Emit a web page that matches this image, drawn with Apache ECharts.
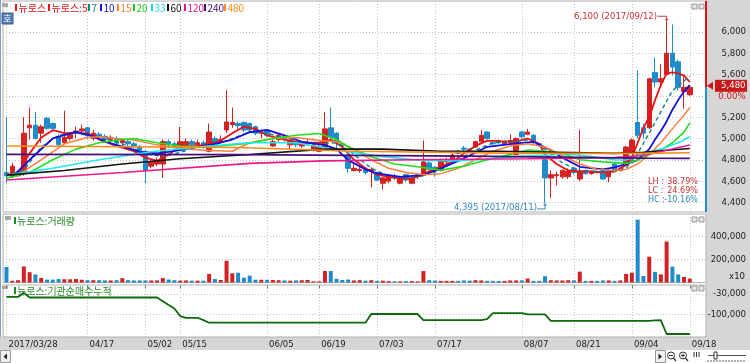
<!DOCTYPE html>
<html><head><meta charset="utf-8">
<script src="https://cdn.jsdelivr.net/npm/echarts@6/dist/echarts.min.js"></script>
<style>html,body{margin:0;padding:0;background:#fff;}#c{width:750px;height:363px;}</style>
</head><body><div id="c"></div>
<script>
const dates = [
'2017/03/28','2017/03/29','2017/03/30','2017/03/31',
'2017/04/03','2017/04/04','2017/04/05','2017/04/06','2017/04/07',
'2017/04/10','2017/04/11','2017/04/12','2017/04/13','2017/04/14',
'2017/04/17','2017/04/18','2017/04/19','2017/04/20','2017/04/21',
'2017/04/24','2017/04/25','2017/04/26','2017/04/27','2017/04/28',
'2017/05/02','2017/05/04','2017/05/08','2017/05/10','2017/05/11','2017/05/12',
'2017/05/15','2017/05/16','2017/05/17','2017/05/18','2017/05/19',
'2017/05/22','2017/05/23','2017/05/24','2017/05/25','2017/05/26',
'2017/05/29','2017/05/30','2017/05/31','2017/06/01','2017/06/02',
'2017/06/05','2017/06/07','2017/06/08','2017/06/09',
'2017/06/12','2017/06/13','2017/06/14','2017/06/15','2017/06/16',
'2017/06/19','2017/06/20','2017/06/21','2017/06/22','2017/06/23',
'2017/06/26','2017/06/27','2017/06/28','2017/06/29','2017/06/30',
'2017/07/03','2017/07/04','2017/07/05','2017/07/06','2017/07/07',
'2017/07/10','2017/07/11','2017/07/12','2017/07/13','2017/07/14',
'2017/07/17','2017/07/18','2017/07/19','2017/07/20','2017/07/21',
'2017/07/24','2017/07/25','2017/07/26','2017/07/27','2017/07/28',
'2017/07/31','2017/08/01','2017/08/02','2017/08/03','2017/08/04',
'2017/08/07','2017/08/08','2017/08/09','2017/08/10','2017/08/11',
'2017/08/14','2017/08/16','2017/08/17','2017/08/18',
'2017/08/21','2017/08/22','2017/08/23','2017/08/24','2017/08/25',
'2017/08/28','2017/08/29','2017/08/30','2017/08/31','2017/09/01',
'2017/09/04','2017/09/05','2017/09/06','2017/09/07','2017/09/08',
'2017/09/11','2017/09/12','2017/09/13','2017/09/14','2017/09/15',
'2017/09/18'];
const tickIdx = [0,14,24,30,45,54,64,74,89,98,108,118];
const priceTicks = [4400,4600,4800,5000,5200,5400,5600,5800,6000];
const priceLabels = [4400,4600,4800,5000,5200,5600,5800,6000];
const volTicks = [200000,400000];
const instTicks = [-30000,-100000];

// [open, close, low, high]
const ohlc = [
[4680,4650,4580,5200],[4645,4740,4630,4770],[4650,4680,4640,4700],[4670,5050,4650,5200],
[5100,5125,4990,5290],[5125,5000,4990,5250],[5050,5110,4960,5130],[5190,5095,5080,5200],
[5140,5095,5060,5150],[5015,4940,4930,5040],[4960,5010,4950,5260],[5000,5040,4980,5060],
[5050,5070,5000,5110],[5070,5090,5040,5130],[5100,5030,5010,5110],[5000,5050,4980,5080],
[5040,5020,4990,5060],[5020,4990,4960,5040],[4990,5010,4950,5030],[5000,4960,4940,5020],
[4960,4980,4920,5000],[4970,4950,4910,4990],[4950,4930,4900,4970],[4920,4880,4850,4940],
[4880,4700,4580,4890],[4740,4780,4720,4800],[4760,4790,4740,4820],[4760,4970,4630,4990],
[4970,4940,4920,4990],[4950,4920,4900,4970],[4930,4970,4910,5110],[4930,4970,4900,5000],
[4970,4940,4920,4990],[4940,4960,4910,4990],[4960,4930,4900,4980],[4880,5060,4870,5140],
[5000,4960,4940,5020],[4970,4990,4950,5030],[5080,5155,5050,5450],[5130,5150,5100,5290],
[5140,5120,5080,5160],[5150,5080,5060,5160],[5140,5080,5060,5150],[5110,5050,5030,5120],
[5050,5060,5000,5080],[5070,5030,5010,5080],[4930,4970,4920,4990],[4990,5030,4970,5040],
[5020,4990,4970,5030],[4940,4980,4900,5010],[4960,4940,4920,4980],[4930,4950,4910,4970],
[4950,4960,4930,4990],[4900,4940,4880,4960],[4880,4920,4870,4940],[4920,5090,4900,5250],
[5100,5010,4990,5290],[5050,4960,4900,5060],[4950,4930,4900,4960],[4840,4720,4680,4850],
[4700,4720,4690,4760],[4700,4710,4680,4740],[4710,4680,4660,4720],[4690,4710,4540,4730],
[4680,4610,4600,4690],[4580,4630,4520,4640],[4600,4640,4580,4660],[4650,4630,4610,4670],
[4580,4630,4570,4650],[4660,4610,4590,4670],[4580,4630,4570,4640],[4640,4660,4620,4670],
[4660,4780,4650,4980],[4770,4710,4700,4790],[4730,4700,4640,4740],[4700,4800,4690,4810],
[4780,4800,4760,4820],[4800,4845,4790,4860],[4880,4860,4850,4890],[4910,4900,4880,4930],
[4900,4890,4870,4910],[4920,4970,4910,4980],[4970,5030,4960,5080],[5060,5000,4990,5070],
[4960,4950,4940,4970],[4980,4960,4950,4990],[4950,4970,4940,4980],[4960,4980,4950,5040],
[4850,5000,4840,5010],[5060,5015,5000,5070],[5040,5060,5030,5090],[5030,4970,4960,5040],
[4950,4940,4920,4960],[4800,4630,4395,4810],[4630,4660,4440,4700],[4650,4660,4560,4690],
[4640,4700,4620,4710],[4640,4690,4620,4720],[4720,4680,4660,4730],[4620,4690,4600,5080],
[4700,4670,4660,4710],[4670,4690,4660,4700],[4690,4680,4670,4700],[4700,4620,4610,4710],
[4640,4700,4590,4710],[4760,4700,4690,4770],[4700,4720,4690,4730],[4750,4920,4740,4930],
[4870,4985,4860,5000],[5150,5030,5000,5640],[5100,5050,5000,5140],[5100,5560,5090,5570],
[5620,5530,5480,5760],[5530,5560,5480,5700],[5600,5800,5590,6100],[5800,5670,5590,6070],
[5720,5480,5450,5740],[5440,5480,5280,5580],[5410,5480,5400,5500]];

const volume = [
135000,15000,20000,140000,90000,70000,40000,25000,25000,30000,
28000,28000,30000,24000,20000,20000,20000,18000,18000,20000,
38000,20000,18000,18000,18000,18000,18000,38000,26000,20000,
16000,18000,16000,16000,16000,75000,30000,22000,190000,80000,
85000,42000,60000,24000,24000,24000,22000,20000,18000,16000,
18000,20000,22000,10000,10000,100000,100000,32000,22000,26000,
18000,20000,16000,20000,14000,16000,12000,10000,10000,12000,
12000,10000,100000,20000,16000,14000,14000,14000,14000,18000,
16000,20000,18000,14000,14000,14000,14000,18000,18000,18000,
35000,14000,14000,55000,20000,18000,18000,20000,18000,95000,
14000,14000,14000,18000,18000,14000,18000,75000,86000,549000,
56000,225000,93000,71000,358000,139000,71000,49000,34000];

const inst = [
-40000,-40000,-40000,-26000,-42000,-42000,-42000,-42000,-42000,-42000,
-42000,-42000,-42000,-42000,-42000,-42000,-42000,-42000,-42000,-42000,
-42000,-42000,-42000,-42000,-42000,-42000,-42000,-55000,-68000,-80000,
-106000,-112000,-112000,-112000,-120000,-129000,-129000,-129000,-129000,-129000,
-129000,-129000,-129000,-129000,-129000,-129000,-129000,-129000,-129000,-129000,
-129000,-129000,-129000,-129000,-129000,-129000,-129000,-129000,-129000,-129000,
-129000,-129000,-129000,-99000,-99000,-99000,-99000,-99000,-99000,-99000,
-99000,-99000,-120000,-120000,-120000,-120000,-120000,-120000,-120000,-120000,
-120000,-120000,-120000,-117000,-96000,-96000,-96000,-96000,-96000,-96000,
-100000,-100000,-100000,-100000,-123000,-123000,-123000,-123000,-123000,-123000,
-123000,-123000,-123000,-123000,-123000,-123000,-123000,-123000,-123000,-123000,
-123000,-123000,-121000,-120000,-168000,-168000,-168000,-168000,-168000];

// moving average lines: [day index, value]
const ma5 = [[0,4660],[2,4672],[4,4860],[6,5010],[8,5078],[10,5050],[12,5050],[14,5047],[16,4990],[19,4930],[22,4880],[24,4820],[26,4790],[28,4850],[30,4920],[33,4930],[35,4950],[37,4980],[39,5050],[41,5110],[43,5090],[45,5030],[48,4990],[51,4960],[54,4960],[56,4990],[58,4920],[60,4800],[62,4720],[64,4660],[67,4630],[70,4620],[72,4670],[74,4710],[77,4780],[79,4860],[81,4930],[83,4980],[85,4975],[88,4970],[90,5000],[92,4950],[93,4850],[95,4760],[97,4700],[99,4690],[101,4690],[103,4680],[105,4690],[107,4750],[108,4820],[109,4960],[110,5100],[111,5200],[112,5360],[113,5500],[114,5610],[115,5620],[116,5610],[117,5590],[118,5530]];
const ma7 = [[0,4650],[3,4700],[6,4920],[9,5030],[12,5050],[15,5020],[18,4980],[21,4930],[24,4860],[27,4830],[30,4870],[33,4920],[36,4940],[39,5000],[42,5060],[45,5050],[48,5000],[51,4970],[54,4950],[57,4960],[60,4850],[63,4720],[66,4650],[69,4630],[72,4650],[75,4710],[78,4800],[81,4890],[84,4960],[87,4970],[90,4985],[93,4900],[96,4770],[99,4700],[102,4690],[105,4690],[107,4720],[109,4860],[111,5050],[113,5250],[115,5450],[117,5540],[118,5584]];
const ma10 = [[1,4640],[4,4800],[8,5000],[12,5062],[15,5020],[18,4953],[21,4910],[23,4875],[26,4860],[28,4875],[31,4900],[33,4922],[36,4950],[39,4990],[42,5060],[45,5080],[48,5030],[51,4969],[55,4938],[57,4900],[59,4797],[62,4710],[64,4672],[68,4640],[72,4656],[75,4719],[78,4790],[80,4840],[83,4922],[88,4953],[91,4969],[94,4891],[96,4820],[99,4734],[103,4709],[105,4728],[107,4760],[109,4797],[110,4850],[111,4900],[112,4990],[113,5070],[114,5160],[115,5270],[116,5360],[117,5440],[118,5500]];
const ma15 = [[2,4656],[6,4800],[10,4950],[14,5010],[16,5016],[19,5000],[22,4985],[26,4940],[30,4906],[34,4890],[39,4880],[42,4960],[46,5000],[50,5010],[54,4980],[57,4970],[60,4900],[63,4800],[66,4720],[69,4680],[72,4660],[75,4670],[78,4720],[81,4800],[84,4880],[87,4930],[90,4950],[93,4920],[96,4840],[99,4760],[102,4710],[105,4700],[107,4710],[109,4760],[111,4850],[113,4960],[115,5090],[117,5220],[118,5290]];
const ma20 = [[0,4628],[4,4680],[8,4800],[12,4900],[16,4960],[20,4990],[22,5000],[26,4960],[30,4930],[33,4922],[37,4930],[42,4956],[46,5000],[50,5030],[54,5047],[57,4990],[59,4922],[63,4828],[67,4760],[71,4734],[75,4703],[79,4740],[83,4800],[87,4850],[90,4891],[93,4880],[96,4860],[99,4800],[103,4780],[107,4766],[109,4797],[111,4850],[113,4891],[115,4960],[117,5060],[118,5147]];
const ma33 = [[0,4656],[8,4720],[16,4800],[25,4875],[33,4920],[42,4960],[50,4960],[59,4875],[65,4830],[71,4797],[77,4790],[82,4803],[88,4830],[94,4844],[96,4859],[101,4830],[105,4800],[107,4797],[110,4859],[113,4900],[116,4960],[118,5016]];
const ma60 = [[0,4656],[10,4700],[20,4760],[30,4810],[42,4850],[55,4900],[65,4900],[75,4880],[85,4880],[95,4870],[105,4860],[110,4870],[114,4890],[118,4906]];
const ma120 = [[0,4610],[20,4680],[42,4766],[55,4790],[70,4800],[90,4810],[105,4820],[110,4840],[114,4890],[118,4938]];
const ma240 = [[0,4850],[40,4848],[80,4835],[110,4815],[118,4813]];
const ma480 = [[0,4930],[40,4915],[60,4880],[90,4860],[110,4860],[118,4866]];

const lastPrice = 5480, lastChange = '0.00%';
const hiNote = {i:114, v:6100, text:'6,100 (2017/09/12)'};
const loNote = {i:93, v:4395, text:'4,395 (2017/08/11)'};
const stats = [['LH :','38.79%'],['LC :','24.69%'],['HC :','-10.16%']];

const RED='#d22222', BLUE='#1f8bcb';
function hasFont(f){const c=document.createElement('canvas').getContext('2d');const s='-100,000 0123456789';
  c.font='20px monospace';const a=c.measureText(s).width;c.font='20px "'+f+'",monospace';return c.measureText(s).width!==a;}
let NARROW='"Liberation Sans",sans-serif', NSIZE=10;
if(hasFont('Liberation Sans Narrow')){NARROW='"Liberation Sans Narrow",sans-serif';NSIZE=10.5;}
else if(hasFont('DejaVu Sans Condensed')){NARROW='"DejaVu Sans Condensed",sans-serif';NSIZE=9.5;}
const KR='"Noto Sans CJK KR","Noto Sans",sans-serif';
const maDefs = [
 {name:'5', data:ma5, color:'#ee1111', w:1.8},
 {name:'7', data:ma7, color:'#108080', w:1.4, dash:[4,3]},
 {name:'10', data:ma10, color:'#1010e0', w:1.8},
 {name:'15', data:ma15, color:'#ff7f3a', w:1.5},
 {name:'20', data:ma20, color:'#1ee01e', w:1.6},
 {name:'33', data:ma33, color:'#1ee8f0', w:1.6},
 {name:'60', data:ma60, color:'#111111', w:1.6},
 {name:'120', data:ma120, color:'#ea1a8a', w:1.6},
 {name:'240', data:ma240, color:'#44107a', w:1.8},
 {name:'480', data:ma480, color:'#ff8a1a', w:1.6}];

const XMIN=-0.6, XMAX=120.8;
const grids=[{left:3,right:44,top:1,height:211},{left:3,right:44,top:214,height:68.5},{left:3,right:44,top:285,height:52}];
function xAx(g, last){
  return {type:'value', gridIndex:g, min:XMIN, max:XMAX,
    axisLine:{show:false},
    axisTick:{show:last, customValues:tickIdx, length:3, lineStyle:{color:'#777'}},
    splitLine:{show:true, lineStyle:{color:'#c4c4c4', type:[1,2], width:1}},
    axisLabel:{show:last, customValues:tickIdx, align:'left', margin:3, padding:[0,0,0,2],
      fontFamily:NARROW, fontSize:NSIZE, color:'#222',
      formatter:v=> v===0 ? dates[0] : dates[v].slice(5)}};
}
function yAx(g,min,max,ticks,labels){
  return {type:'value', gridIndex:g, position:'right', min, max,
    axisLine:{show:false},
    axisTick:{show:false, customValues:ticks},
    splitLine:{show:true, lineStyle:{color:'#c4c4c4', type:[1,2], width:1}},
    axisLabel:{customValues:labels, align:'right', margin:40, fontFamily:NARROW, fontSize:NSIZE, color:'#222',
      formatter:v=>v.toLocaleString('en-US')}};
}
const series=[];
series.push({type:'candlestick', xAxisIndex:0, yAxisIndex:0, barWidth:5, z:2,
  data: ohlc.map((d,i)=>[i,d[0],d[1],d[2],d[3]]), encode:{x:0,y:[1,2,3,4]},
  itemStyle:{color:RED,color0:BLUE,borderColor:RED,borderColor0:BLUE,borderWidth:1},
  markLine:{silent:true, symbol:'none', label:{show:false}, animation:false,
    data:[[{coord:[120.7,6290],lineStyle:{color:'#e01010',width:2,type:'solid'}},{coord:[120.7,lastPrice]}],
          [{coord:[120.7,lastPrice],lineStyle:{color:'#2090d0',width:2,type:'solid'}},{coord:[120.7,4310]}]]}});
maDefs.forEach((m,k)=>series.push({type:'line', xAxisIndex:0, yAxisIndex:0, data:m.data, symbol:'none', z:3+k*0.01,
  lineStyle:{color:m.color,width:m.w,type:m.dash||'solid'}, animation:false}));
series.push({type:'bar', xAxisIndex:1, yAxisIndex:1, barWidth:4,
  data: volume.map((v,i)=>({value:[i,v], itemStyle:{color: ohlc[i][1]>=ohlc[i][0]?RED:BLUE}}))});
series.push({type:'line', xAxisIndex:2, yAxisIndex:2, data: inst.map((v,i)=>[i,v]), symbol:'none',
  lineStyle:{color:'#0c6a0c', width:1.8}});

const chart = echarts.init(document.getElementById('c'));
chart.setOption({animation:false, backgroundColor:'#fff',
  grid: grids.map(g=>Object.assign({show:true, borderColor:'#b0b0b0', borderWidth:1, backgroundColor:'#fff'},g)),
  xAxis:[xAx(0,false),xAx(1,false),xAx(2,true)],
  yAxis:[yAx(0,4310,6290,priceTicks,priceLabels), yAx(1,0,598000,volTicks,volTicks), yAx(2,-178300,1030,instTicks,instTicks)],
  series});

const P=(i,v)=>chart.convertToPixel({xAxisIndex:0,yAxisIndex:0},[i,v]);
const g=[];
g.push({type:'rect', z:-10, shape:{x:706,y:0,width:44,height:350}, style:{fill:'#d6d6d6'}});
g.push({type:'rect', z:-10, shape:{x:0,y:337,width:750,height:13}, style:{fill:'#d6d6d6'}});
g.push({type:'line', z:-9, shape:{x1:0.5,y1:0,x2:0.5,y2:337}, style:{stroke:'#7f9fc8',lineWidth:1}});
const leg=[['뉴로스','#e01818',15],['뉴로스:5','#e01818',48],['7','#108080',88],['10','#1010e0',100],['15','#ff7f3a',117],['20','#1ec81e',133],['33','#1ed8f0',151],['60','#111',167],['120','#e8158a',184],['240','#44107a',204],['480','#ff8a1a',224]];
g.push({type:'rect', shape:{x:2,y:3,width:6,height:4}, style:{fill:'#a8a8a8'}});
leg.forEach(l=>{
  g.push({type:'rect', shape:{x:l[2],y:4,width:2,height:7}, style:{fill:l[1]}});
  g.push({type:'text', x:l[2]+3.5, y:8, style:{text:l[0], fill:l[1], font:'10px '+KR, verticalAlign:'middle'}});
});
g.push({type:'rect', shape:{x:2,y:13,width:11,height:11}, style:{fill:'#557eb0',stroke:'#3a5f90'}});
g.push({type:'text', x:7.5, y:18.5, style:{text:'호', fill:'#fff', font:'9px '+KR, align:'center', verticalAlign:'middle'}});
g.push({type:'rect', shape:{x:5,y:216,width:6,height:4}, style:{fill:'#a8a8a8'}});
g.push({type:'rect', shape:{x:14,y:217,width:2,height:7}, style:{fill:'#1c8a1c'}});
g.push({type:'text', x:17, y:221, style:{text:'뉴로스:거래량', fill:'#2a8a2a', font:'10px '+KR, verticalAlign:'middle'}});
g.push({type:'rect', shape:{x:2,y:286,width:6,height:3}, style:{fill:'#a8a8a8'}});
g.push({type:'rect', shape:{x:14,y:287,width:2,height:7}, style:{fill:'#1c8a1c'}});
g.push({type:'text', x:17, y:291, style:{text:'뉴로스:기관순매수누적', fill:'#2a8a2a', font:'10px '+KR, verticalAlign:'middle'}});
[4,217,286].forEach(y=>{[692,699].forEach(x=>g.push({type:'rect', shape:{x:x,y:y,width:5,height:5}, style:{fill:'#e4e4e4',stroke:'#999',lineWidth:1}}));});
g.push({type:'text', x:745, y:277, style:{text:'x10', fill:'#222', font:NSIZE+'px '+NARROW, align:'right', verticalAlign:'middle'}});
const ph=P(hiNote.i,hiNote.v);
g.push({type:'text', x:ph[0]-9.5, y:ph[1]-5, style:{text:hiNote.text, fill:'#cc3333', font:NSIZE+'px '+NARROW, align:'right', verticalAlign:'middle'}});
g.push({type:'polyline', shape:{points:[[ph[0]-9,ph[1]-5],[ph[0],ph[1]-5],[ph[0],ph[1]-1]]}, style:{stroke:'#cc3333',fill:null,lineWidth:1}});
g.push({type:'polygon', shape:{points:[[ph[0]-2,ph[1]-2],[ph[0]+2,ph[1]-2],[ph[0],ph[1]]]}, style:{fill:'#cc3333'}});
const pl=P(loNote.i,loNote.v);
g.push({type:'text', x:pl[0]-8, y:pl[1]+5, style:{text:loNote.text, fill:'#2e8bc0', font:NSIZE+'px '+NARROW, align:'right', verticalAlign:'middle'}});
g.push({type:'polyline', shape:{points:[[pl[0]-8,pl[1]+6],[pl[0],pl[1]+6],[pl[0],pl[1]+1]]}, style:{stroke:'#2e8bc0',fill:null,lineWidth:1}});
g.push({type:'polygon', shape:{points:[[pl[0]-2,pl[1]+2.5],[pl[0]+2,pl[1]+2.5],[pl[0],pl[1]]]}, style:{fill:'#2e8bc0'}});
stats.forEach((s,k)=>{
  const col = k<2 ? '#c83232' : '#2e8bc0';
  g.push({type:'text', x:648, y:182+k*9, style:{text:s[0], fill:col, font:'9px '+NARROW, verticalAlign:'middle'}});
  g.push({type:'text', x:698, y:182+k*9, style:{text:s[1], fill:col, font:'9px '+NARROW, align:'right', verticalAlign:'middle'}});
});
const pp=P(120.7,lastPrice);
g.push({type:'polygon', shape:{points:[[707,pp[1]-1.5],[713,pp[1]-5.5],[713,pp[1]+2.5]]}, style:{fill:'#d01818'}});
g.push({type:'rect', shape:{x:715,y:pp[1]-7.5,width:32,height:12}, style:{fill:'#c81818'}});
g.push({type:'text', x:745.5, y:pp[1]-1.5, style:{text:lastPrice.toLocaleString('en-US'), fill:'#fff', font:NSIZE+'px '+NARROW, align:'right', verticalAlign:'middle'}});
g.push({type:'text', x:745.5, y:pp[1]+9.5, style:{text:lastChange, fill:'#d01818', font:NSIZE+'px '+NARROW, align:'right', verticalAlign:'middle'}});
g.push({type:'rect', shape:{x:0.5,y:350.5,width:10,height:12}, style:{fill:'#f0f0f0',stroke:'#999'}});
g.push({type:'polygon', shape:{points:[[3.5,356.5],[7,353.5],[7,359.5]]}, style:{fill:'#222'}});
g.push({type:'rect', shape:{x:655.5,y:350.5,width:10,height:12}, style:{fill:'#f0f0f0',stroke:'#999'}});
g.push({type:'polygon', shape:{points:[[662,356.5],[658.5,353.5],[658.5,359.5]]}, style:{fill:'#222'}});
[671,683].forEach((x,k)=>{g.push({type:'circle', shape:{cx:x,cy:355.5,r:3.5}, style:{fill:null,stroke:'#333',lineWidth:1}});
  g.push({type:'line', shape:{x1:x+2.5,y1:358,x2:x+5,y2:361}, style:{stroke:'#333',lineWidth:1.2}});
  g.push({type:'line', shape:{x1:x-2,y1:355.5,x2:x+2,y2:355.5}, style:{stroke:'#333'}});
  if(k===1) g.push({type:'line', shape:{x1:x,y1:353.5,x2:x,y2:357.5}, style:{stroke:'#333'}});});
[694,696.5,699].forEach(x=>g.push({type:'line', shape:{x1:x,y1:352,x2:x,y2:357}, style:{stroke:'#333'}}));
g.push({type:'line', shape:{x1:708,y1:355.5,x2:746,y2:355.5}, style:{stroke:'#555'}});
g.push({type:'rect', shape:{x:714,y:352,width:3,height:7}, style:{fill:'#fff',stroke:'#333'}});
for(let x=708;x<=746;x+=3) g.push({type:'line', shape:{x1:x,y1:360,x2:x,y2:362}, style:{stroke:'#666'}});
chart.setOption({graphic:g});
</script></body></html>
